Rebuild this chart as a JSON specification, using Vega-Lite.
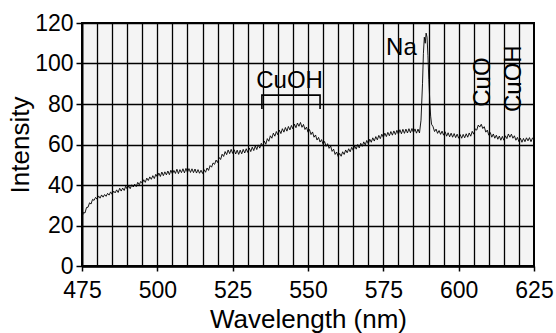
{
  "$schema": "https://vega.github.io/schema/vega-lite/v6.json",
  "width": 452,
  "height": 243,
  "autosize": {"type": "none"},
  "padding": {"left": 82, "top": 23, "right": 22, "bottom": 67},
  "background": "white",
  "config": {
    "font": "Liberation Sans",
    "view": {"fill": "#f4f4f4", "stroke": "#000", "strokeWidth": 2}
  },
  "datasets": {
    "spec": [
      {"w":475,"i":24.3},{"w":475.5,"i":26.4},{"w":476,"i":26.2},{"w":476.5,"i":28.9},{"w":477,"i":29.0},{"w":477.5,"i":31.2},{"w":478,"i":30.6},{"w":478.5,"i":32.9},{"w":479,"i":32.4},{"w":479.5,"i":33.9},
      {"w":480,"i":33.0},{"w":480.5,"i":34.6},{"w":481,"i":33.5},{"w":481.5,"i":35.1},{"w":482,"i":34.0},{"w":482.5,"i":35.3},{"w":483,"i":34.4},{"w":483.5,"i":35.9},{"w":484,"i":35.0},{"w":484.5,"i":36.6},
      {"w":485,"i":35.4},{"w":485.5,"i":37.0},{"w":486,"i":36.1},{"w":486.5,"i":37.6},{"w":487,"i":36.3},{"w":487.5,"i":38.4},{"w":488,"i":37.0},{"w":488.5,"i":38.5},{"w":489,"i":37.3},{"w":489.5,"i":39.4},
      {"w":490,"i":38.0},{"w":490.5,"i":39.6},{"w":491,"i":38.2},{"w":491.5,"i":40.1},{"w":492,"i":39.0},{"w":492.5,"i":40.4},{"w":493,"i":39.2},{"w":493.5,"i":41.3},{"w":494,"i":40.1},{"w":494.5,"i":41.8},
      {"w":495,"i":40.9},{"w":495.5,"i":42.6},{"w":496,"i":41.3},{"w":496.5,"i":43.4},{"w":497,"i":42.2},{"w":497.5,"i":44.0},{"w":498,"i":42.8},{"w":498.5,"i":44.6},{"w":499,"i":43.2},{"w":499.5,"i":45.3},
      {"w":500,"i":44.0},{"w":500.5,"i":45.9},{"w":501,"i":44.2},{"w":501.5,"i":46.4},{"w":502,"i":44.6},{"w":502.5,"i":46.5},{"w":503,"i":45.0},{"w":503.5,"i":46.9},{"w":504,"i":45.1},{"w":504.5,"i":47.3},
      {"w":505,"i":45.5},{"w":505.5,"i":47.2},{"w":506,"i":45.7},{"w":506.5,"i":47.8},{"w":507,"i":45.6},{"w":507.5,"i":47.6},{"w":508,"i":46.1},{"w":508.5,"i":48.0},{"w":509,"i":46.0},{"w":509.5,"i":48.2},
      {"w":510,"i":46.3},{"w":510.5,"i":48.1},{"w":511,"i":46.2},{"w":511.5,"i":48.0},{"w":512,"i":46.1},{"w":512.5,"i":47.9},{"w":513,"i":45.9},{"w":513.5,"i":47.6},{"w":514,"i":45.8},{"w":514.5,"i":47.3},
      {"w":515,"i":45.7},{"w":515.5,"i":47.6},{"w":516,"i":46.3},{"w":516.5,"i":48.4},{"w":517,"i":47.2},{"w":517.5,"i":49.6},{"w":518,"i":48.8},{"w":518.5,"i":50.9},{"w":519,"i":50.2},{"w":519.5,"i":52.3},
      {"w":520,"i":51.1},{"w":520.5,"i":53.6},{"w":521,"i":52.6},{"w":521.5,"i":55.2},{"w":522,"i":54.1},{"w":522.5,"i":56.5},{"w":523,"i":55.0},{"w":523.5,"i":57.3},{"w":524,"i":55.5},{"w":524.5,"i":57.6},
      {"w":525,"i":55.6},{"w":525.5,"i":57.4},{"w":526,"i":55.3},{"w":526.5,"i":57.2},{"w":527,"i":55.1},{"w":527.5,"i":57.2},{"w":528,"i":55.4},{"w":528.5,"i":57.6},{"w":529,"i":55.8},{"w":529.5,"i":57.9},
      {"w":530,"i":56.1},{"w":530.5,"i":58.3},{"w":531,"i":56.5},{"w":531.5,"i":58.7},{"w":532,"i":57.0},{"w":532.5,"i":59.3},{"w":533,"i":57.5},{"w":533.5,"i":59.8},{"w":534,"i":58.2},{"w":534.5,"i":60.6},
      {"w":535,"i":59.2},{"w":535.5,"i":61.7},{"w":536,"i":60.1},{"w":536.5,"i":62.9},{"w":537,"i":61.6},{"w":537.5,"i":64.3},{"w":538,"i":63.1},{"w":538.5,"i":65.6},{"w":539,"i":64.1},{"w":539.5,"i":66.4},
      {"w":540,"i":64.8},{"w":540.5,"i":67.1},{"w":541,"i":65.4},{"w":541.5,"i":67.8},{"w":542,"i":66.1},{"w":542.5,"i":68.4},{"w":543,"i":66.6},{"w":543.5,"i":68.9},{"w":544,"i":67.2},{"w":544.5,"i":69.4},
      {"w":545,"i":67.7},{"w":545.5,"i":70.1},{"w":546,"i":68.3},{"w":546.5,"i":70.6},{"w":547,"i":69.0},{"w":547.5,"i":70.9},{"w":548,"i":68.5},{"w":548.5,"i":69.9},{"w":549,"i":67.4},{"w":549.5,"i":68.6},
      {"w":550,"i":66.1},{"w":550.5,"i":67.4},{"w":551,"i":64.9},{"w":551.5,"i":66.2},{"w":552,"i":63.6},{"w":552.5,"i":64.7},{"w":553,"i":62.2},{"w":553.5,"i":63.5},{"w":554,"i":61.2},{"w":554.5,"i":62.4},
      {"w":555,"i":60.1},{"w":555.5,"i":61.5},{"w":556,"i":59.1},{"w":556.5,"i":60.4},{"w":557,"i":58.1},{"w":557.5,"i":59.3},{"w":558,"i":56.6},{"w":558.5,"i":57.7},{"w":559,"i":55.1},{"w":559.5,"i":56.3},
      {"w":560,"i":54.1},{"w":560.5,"i":55.6},{"w":561,"i":54.2},{"w":561.5,"i":56.4},{"w":562,"i":55.1},{"w":562.5,"i":57.3},{"w":563,"i":55.9},{"w":563.5,"i":57.9},{"w":564,"i":56.4},{"w":564.5,"i":58.6},
      {"w":565,"i":57.1},{"w":565.5,"i":59.3},{"w":566,"i":57.7},{"w":566.5,"i":60.0},{"w":567,"i":58.3},{"w":567.5,"i":60.6},{"w":568,"i":59.1},{"w":568.5,"i":61.3},{"w":569,"i":59.8},{"w":569.5,"i":62.0},
      {"w":570,"i":60.4},{"w":570.5,"i":62.6},{"w":571,"i":61.1},{"w":571.5,"i":63.3},{"w":572,"i":61.7},{"w":572.5,"i":63.9},{"w":573,"i":62.3},{"w":573.5,"i":64.5},{"w":574,"i":62.9},{"w":574.5,"i":65.1},
      {"w":575,"i":63.5},{"w":575.5,"i":65.6},{"w":576,"i":63.9},{"w":576.5,"i":66.0},{"w":577,"i":64.3},{"w":577.5,"i":66.4},{"w":578,"i":64.6},{"w":578.5,"i":66.7},{"w":579,"i":64.9},{"w":579.5,"i":67.0},
      {"w":580,"i":65.1},{"w":580.5,"i":67.3},{"w":581,"i":65.3},{"w":581.5,"i":67.5},{"w":582,"i":65.5},{"w":582.5,"i":67.6},{"w":583,"i":65.7},{"w":583.5,"i":67.8},{"w":584,"i":65.8},{"w":584.5,"i":67.9},
      {"w":585,"i":65.9},{"w":585.5,"i":67.7},{"w":586,"i":65.6},{"w":586.5,"i":67.6},{"w":587,"i":65.7},{"w":587.5,"i":72},{"w":588,"i":90},{"w":588.3,"i":105},{"w":588.6,"i":113},{"w":588.9,"i":110},
      {"w":589.2,"i":115},{"w":589.5,"i":113},{"w":589.8,"i":104},{"w":590.1,"i":92},{"w":590.4,"i":82},{"w":590.7,"i":74},{"w":591,"i":70},{"w":591.5,"i":68.8},{"w":592,"i":66.4},{"w":592.5,"i":67.6},
      {"w":593,"i":65.5},{"w":593.5,"i":66.9},{"w":594,"i":65.0},{"w":594.5,"i":66.6},{"w":595,"i":64.6},{"w":595.5,"i":66.3},{"w":596,"i":64.1},{"w":596.5,"i":65.8},{"w":597,"i":63.8},{"w":597.5,"i":65.6},
      {"w":598,"i":63.6},{"w":598.5,"i":65.4},{"w":599,"i":63.4},{"w":599.5,"i":65.1},{"w":600,"i":63.1},{"w":600.5,"i":64.9},{"w":601,"i":63.1},{"w":601.5,"i":65.0},{"w":602,"i":63.3},{"w":602.5,"i":65.3},
      {"w":603,"i":63.6},{"w":603.5,"i":65.7},{"w":604,"i":64.1},{"w":604.5,"i":66.5},{"w":605,"i":65.1},{"w":605.5,"i":67.7},{"w":606,"i":67.1},{"w":606.5,"i":69.6},{"w":607,"i":68.6},{"w":607.5,"i":70.0},
      {"w":608,"i":67.9},{"w":608.5,"i":68.8},{"w":609,"i":66.1},{"w":609.5,"i":67.1},{"w":610,"i":64.6},{"w":610.5,"i":65.9},{"w":611,"i":63.6},{"w":611.5,"i":65.2},{"w":612,"i":63.1},{"w":612.5,"i":64.6},
      {"w":613,"i":62.6},{"w":613.5,"i":64.2},{"w":614,"i":62.1},{"w":614.5,"i":64.0},{"w":615,"i":62.1},{"w":615.5,"i":64.3},{"w":616,"i":62.9},{"w":616.5,"i":65.2},{"w":617,"i":63.6},{"w":617.5,"i":65.1},
      {"w":618,"i":63.1},{"w":618.5,"i":64.3},{"w":619,"i":62.1},{"w":619.5,"i":63.5},{"w":620,"i":61.4},{"w":620.5,"i":63.1},{"w":621,"i":61.1},{"w":621.5,"i":63.0},{"w":622,"i":61.4},{"w":622.5,"i":63.3},
      {"w":623,"i":61.8},{"w":623.5,"i":63.4},{"w":624,"i":61.4},{"w":624.5,"i":63.2},{"w":625,"i":62.5}
    ],
    "bracket": [
      {"w":534.7,"i":77.5,"o":1},{"w":534.7,"i":84.4,"o":2},{"w":554,"i":84.4,"o":3},{"w":554,"i":77.5,"o":4}
    ],
    "hlabels": [
      {"w":543.9,"i":87.8,"t":"CuOH"},{"w":581.0,"i":104.1,"t":"Na"}
    ],
    "vlabels": [
      {"w":610.4,"i":90.8,"t":"CuO"},{"w":620.7,"i":92.5,"t":"CuOH"}
    ]
  },
  "resolve": {"axis": {"x": "independent"}},
  "layer": [
    {
      "data": {"name": "spec"},
      "mark": {"type": "line", "color": "#000", "strokeWidth": 0.9},
      "encoding": {
        "x": {"field": "w", "type": "quantitative",
          "scale": {"domain": [475, 625], "nice": false, "zero": false},
          "axis": {"orient": "top", "grid": true, "gridColor": "#000", "gridWidth": 1.3, "gridOpacity": 1,
            "values": [480,485,490,495,500,505,510,515,520,525,530,535,540,545,550,555,560,565,570,575,580,585,590,595,600,605,610,615,620],
            "labels": false, "ticks": false, "domain": false, "title": null}},
        "y": {"field": "i", "type": "quantitative", "title": "Intensity",
          "scale": {"domain": [0, 120], "nice": false},
          "axis": {"values": [0,20,40,60,80,100,120], "grid": true, "gridColor": "#000", "gridWidth": 1.3, "gridOpacity": 1,
            "domainColor": "#000", "domainWidth": 2, "tickColor": "#000", "tickSize": 6, "tickWidth": 1.5,
            "labelFontSize": 23, "labelColor": "#000", "labelPadding": 3, "labelFont": "Liberation Sans",
            "titleFontSize": 26, "titleFontWeight": "normal", "titleColor": "#000", "titleFont": "Liberation Sans",
            "titleAngle": 270, "titleBaseline": "alphabetic", "titleAlign": "center", "titleX": -54, "titleY": 121.5}}
      }
    },
    {
      "data": {"name": "bracket"},
      "mark": {"type": "line", "color": "#000", "strokeWidth": 1.6},
      "encoding": {
        "x": {"field": "w", "type": "quantitative",
          "scale": {"domain": [475, 625], "nice": false, "zero": false},
          "axis": {"orient": "bottom", "values": [475,500,525,550,575,600,625], "grid": false,
            "domainColor": "#000", "domainWidth": 2.5, "tickColor": "#000", "tickSize": 5, "tickWidth": 1.5,
            "labelFontSize": 23, "labelColor": "#000", "labelPadding": 8, "labelFont": "Liberation Sans", "labelFlush": false,
            "title": "Wavelength (nm)", "titleFontSize": 26, "titleFontWeight": "normal", "titleColor": "#000", "titleFont": "Liberation Sans",
            "titleBaseline": "alphabetic", "titleY": 61}},
        "y": {"field": "i", "type": "quantitative", "title": "Intensity"},
        "order": {"field": "o", "type": "quantitative"}
      }
    },
    {
      "data": {"name": "hlabels"},
      "mark": {"type": "text", "font": "Liberation Sans", "fontSize": 24, "align": "center", "baseline": "alphabetic", "color": "#000"},
      "encoding": {
        "x": {"field": "w", "type": "quantitative", "axis": null},
        "y": {"field": "i", "type": "quantitative", "title": "Intensity"},
        "text": {"field": "t"}
      }
    },
    {
      "data": {"name": "vlabels"},
      "mark": {"type": "text", "font": "Liberation Sans", "fontSize": 24, "align": "center", "baseline": "alphabetic", "angle": 270, "color": "#000"},
      "encoding": {
        "x": {"field": "w", "type": "quantitative", "axis": null},
        "y": {"field": "i", "type": "quantitative", "title": "Intensity"},
        "text": {"field": "t"}
      }
    }
  ]
}
